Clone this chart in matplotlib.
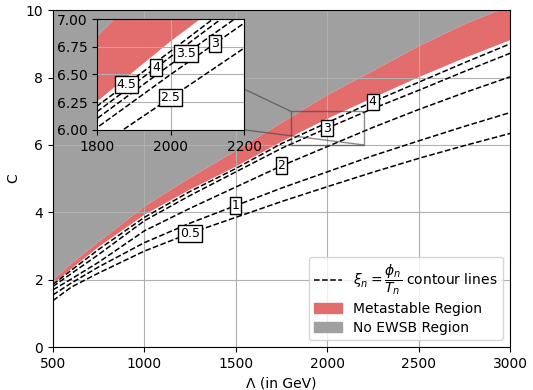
import numpy as np
import matplotlib
matplotlib.use("Agg")
import matplotlib.pyplot as plt
from matplotlib.patches import Patch, Rectangle, ConnectionPatch
from matplotlib.lines import Line2D

lam = [500, 600, 750, 1000, 1250, 1500, 1750, 2000, 2250, 2500, 2750, 3000]

# boundaries of the regions
metastable_top = [2.02, 2.5, 3.15, 4.2, 5.05, 5.85, 6.68, 7.5, 8.22, 8.95, 9.6, 10.15]
metastable_bot = [1.9, 2.35, 3.0, 3.95, 4.7, 5.38, 6.12, 6.8, 7.42, 8.03, 8.6, 9.13]

# contour lines of xi_n = phi_n / T_n
xi_05 = [1.38, 1.78, 2.2, 2.85, 3.38, 3.85, 4.32, 4.76, 5.19, 5.6, 5.98, 6.34]
xi_1 = [1.55, 1.9, 2.38, 3.1, 3.68, 4.2, 4.72, 5.2, 5.68, 6.12, 6.55, 6.96]
xi_2 = [1.7, 2.02, 2.52, 3.45, 4.12, 4.75, 5.38, 5.95, 6.52, 7.05, 7.55, 8.02]
xi_25 = [1.76, 2.1, 2.65, 3.6, 4.3, 4.98, 5.73, 6.29, 6.85, 7.35, 7.88, 8.4]
xi_3 = [1.8, 2.18, 2.75, 3.75, 4.5, 5.2, 5.9, 6.5, 7.08, 7.62, 8.18, 8.72]
xi_35 = [1.83, 2.23, 2.83, 3.8, 4.56, 5.25, 5.98, 6.59, 7.18, 7.75, 8.3, 8.86]
xi_4 = [1.86, 2.28, 2.9, 3.85, 4.62, 5.3, 6.04, 6.66, 7.28, 7.86, 8.44, 9.0]
xi_45 = [1.88, 2.32, 2.96, 3.9, 4.66, 5.34, 6.09, 6.71, 7.34, 7.93, 8.5, 9.05]

main_lines = {"0.5": xi_05, "1": xi_1, "2": xi_2, "3": xi_3, "4": xi_4}
main_label_x = {"0.5": 1251, "1": 1498, "2": 1750, "3": 2000, "4": 2249}
inset_lines = {"2.5": xi_25, "3": xi_3, "3.5": xi_35, "4": xi_4, "4.5": xi_45}
inset_label_x = {"2.5": 2000, "3": 2121, "3.5": 2042, "4": 1960, "4.5": 1880}

red = "#e36c6c"
grey = "#a0a0a0"


def draw(ax, lines, label_x, fs):
	ax.fill_between(lam, metastable_top, 11, color=grey, lw=0)
	ax.fill_between(lam, metastable_bot, metastable_top, color=red, lw=0)
	for name, ys in lines.items():
		ax.plot(lam, ys, '--', color="black", lw=1.1)
		lx = label_x[name]
		ly = np.interp(lx, lam, ys)
		ax.text(lx, ly, name, fontsize=fs, ha="center", va="center", zorder=5,
				bbox=dict(boxstyle="square,pad=0.15", fc="white", ec="black", lw=1))
	ax.grid(True)


fig = plt.figure(figsize=(5.33, 3.9), dpi=100)
ax = fig.add_axes([0.0994, 0.110, 0.8576, 0.864])
draw(ax, main_lines, main_label_x, 9)
ax.set_xlim(500, 3000)
ax.set_ylim(0, 10)
ax.set_xlabel("Λ (in GeV)")
ax.set_ylabel("C")

handles = [Line2D([0], [0], ls='--', color="black", lw=1.1),
		   Patch(color=red), Patch(color=grey)]
labels = [r"$\xi_n = \dfrac{\phi_n}{T_n}$ contour lines", "Metastable Region", "No EWSB Region"]
ax.legend(handles, labels, loc="lower right", labelspacing=0.35)

axins = fig.add_axes([0.182, 0.667, 0.276, 0.284])
draw(axins, inset_lines, inset_label_x, 9)
axins.set_xlim(1800, 2200)
axins.set_ylim(6, 7)
axins.set_xticks([1800, 2000, 2200])
axins.set_yticks([6.0, 6.25, 6.5, 6.75, 7.0])
axins.set_yticklabels(["6.00", "6.25", "6.50", "6.75", "7.00"])

# zoom box and connectors, drawn under the inset
ax.add_patch(Rectangle((1800, 6), 400, 1, fill=False, ec="0.25", alpha=0.6, lw=1, zorder=4))
for a, b in [((0, 1), (1800, 7)), ((1, 0), (2200, 6))]:
	con = ConnectionPatch(xyA=a, coordsA=axins.transAxes, xyB=b, coordsB=ax.transData,
						  color="0.25", alpha=0.6, lw=1, zorder=4)
	ax.add_artist(con)

fig.savefig("out.png")
